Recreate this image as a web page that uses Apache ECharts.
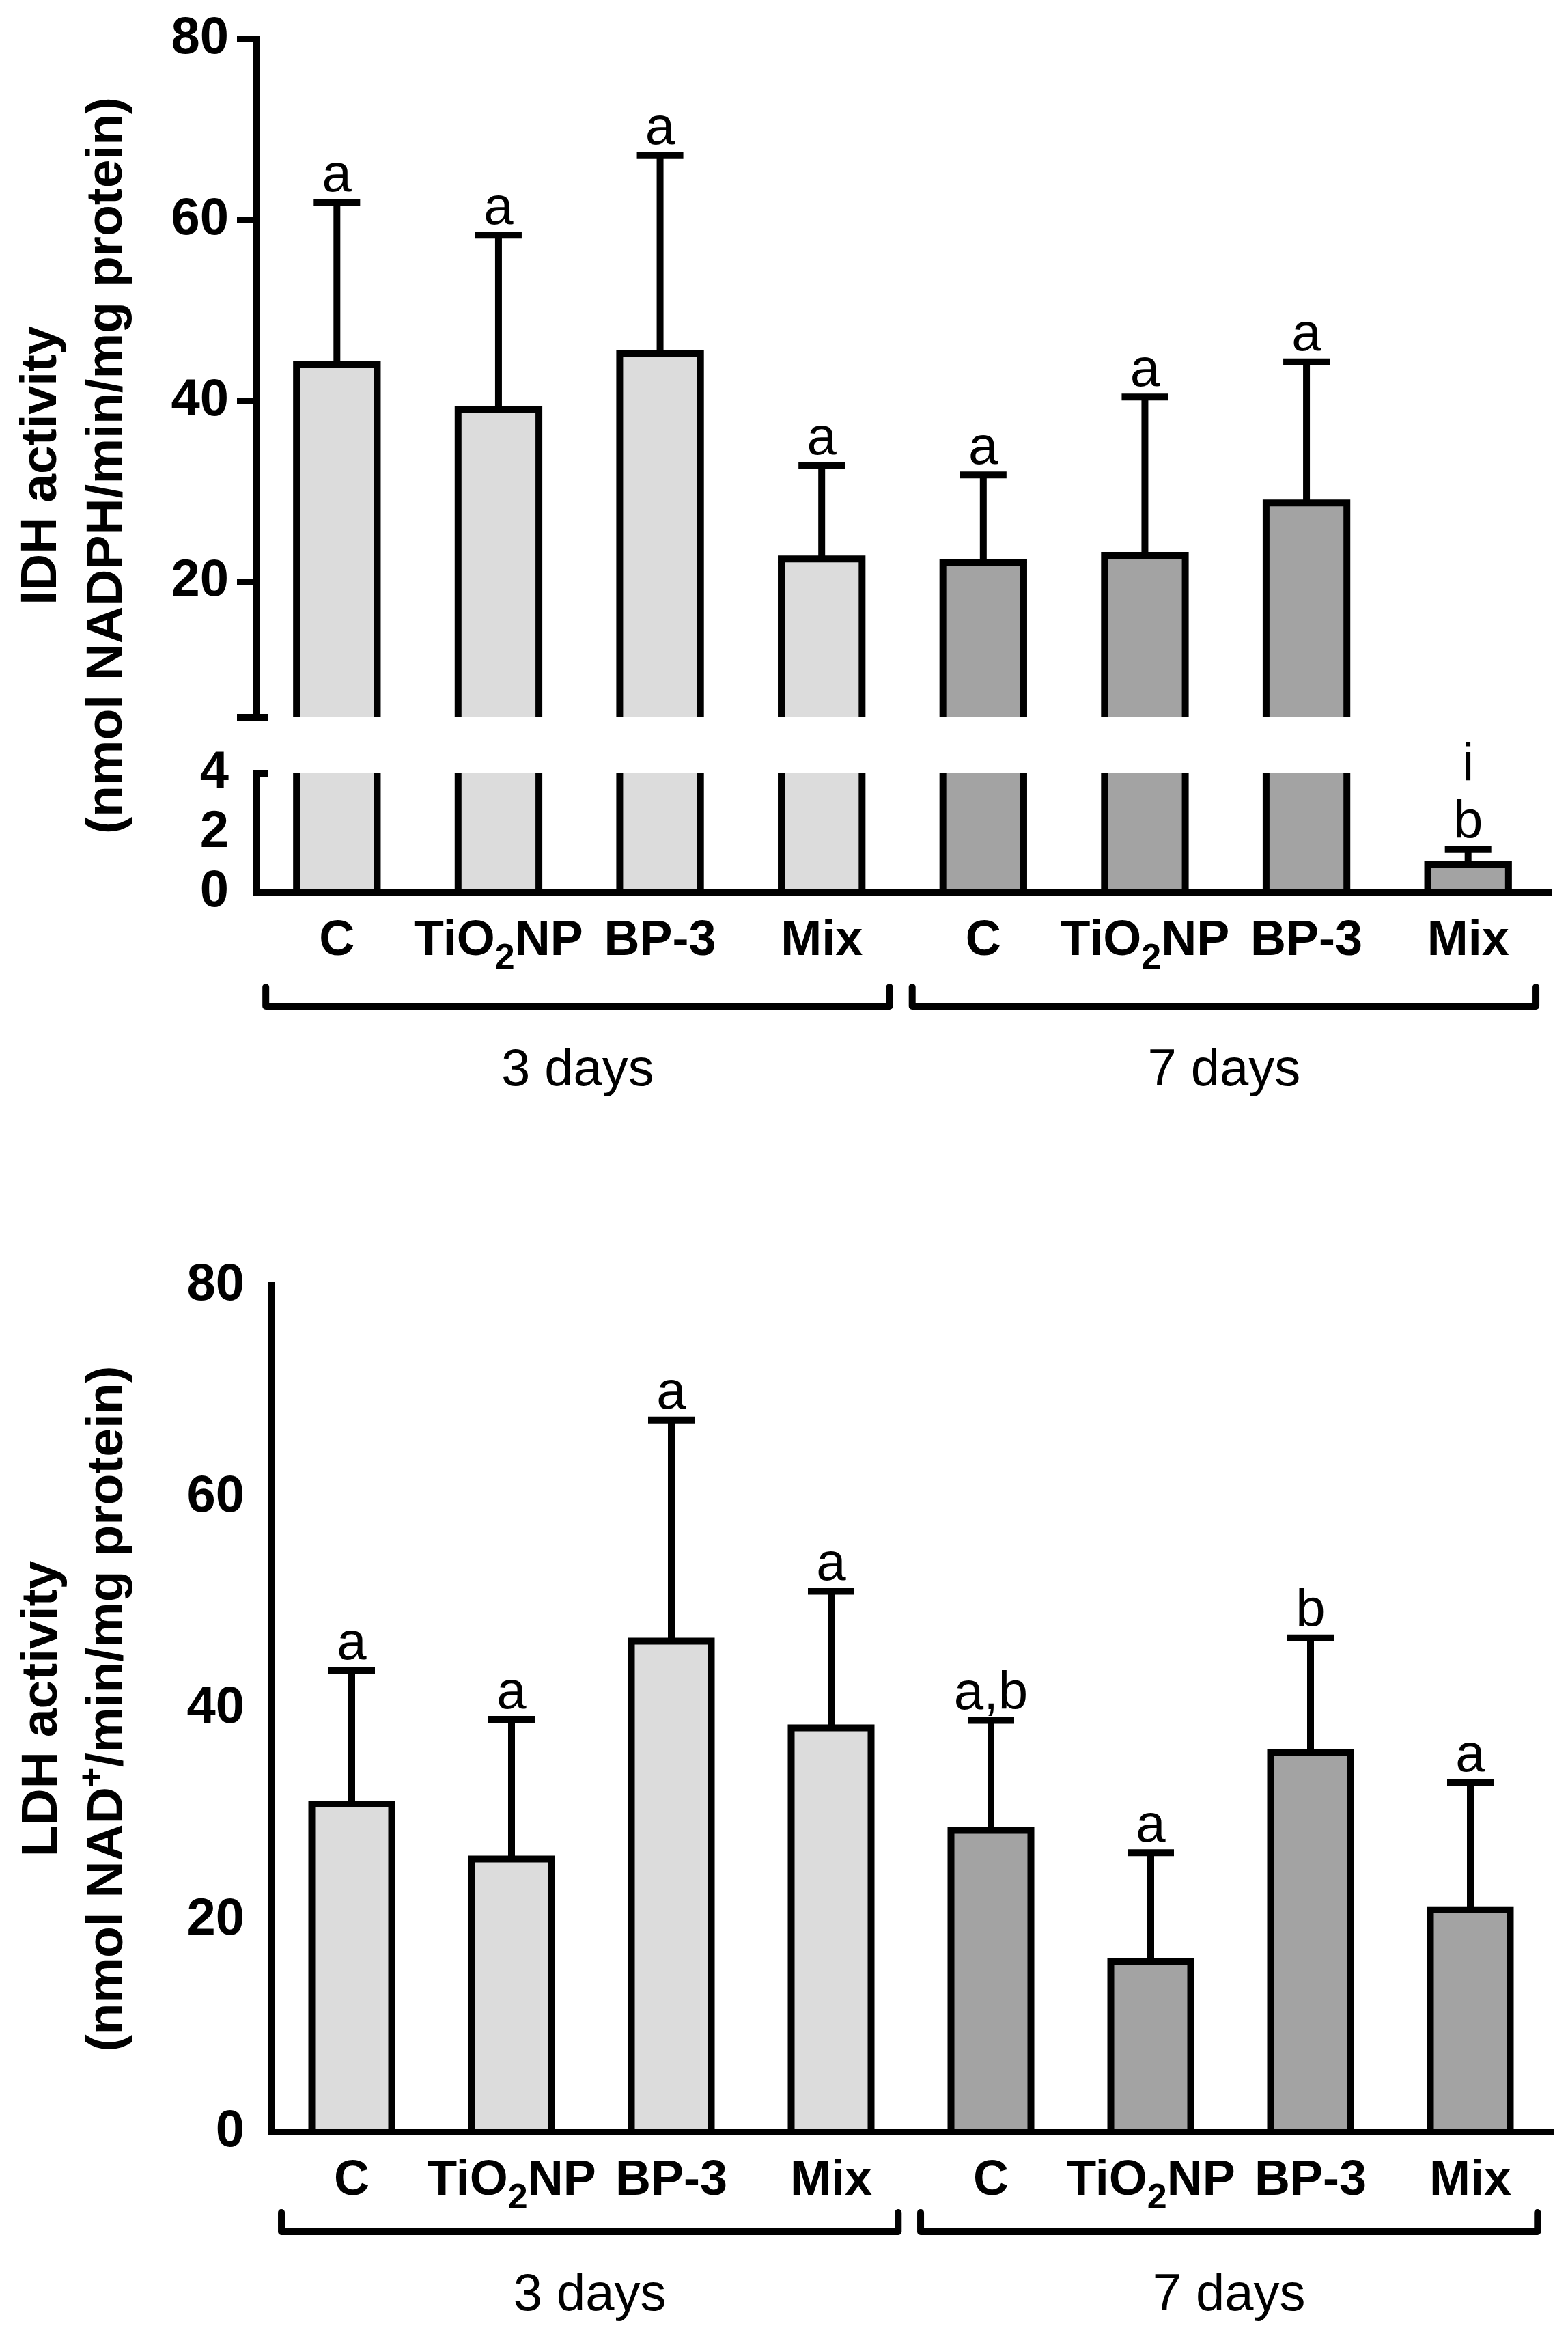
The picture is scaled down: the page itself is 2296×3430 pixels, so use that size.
<!DOCTYPE html>
<html>
<head>
<meta charset="utf-8">
<script src="https://cdn.jsdelivr.net/npm/echarts@6/dist/echarts.min.js"></script>
<style>
  html, body { margin: 0; padding: 0; background: #fff; }
  #chart { width: 2296px; height: 3430px; }
</style>
</head>
<body>
<div id="chart"></div>
<script>
  // categories and groups
  var categories = ['C', 'TiO2NP', 'BP-3', 'Mix', 'C', 'TiO2NP', 'BP-3', 'Mix'];
  var dayGroup = [0, 0, 0, 0, 1, 1, 1, 1];
  var groupNames = ['3 days', '7 days'];
  var groupFirst = [0, 4];
  var groupLast = [3, 7];

  // IDH panel (broken axis)
  var idhMean = [44.0, 39.0, 45.2, 22.5, 22.1, 22.9, 28.7, 0.92];
  var idhSd = [17.9, 19.3, 21.9, 10.3, 9.7, 17.5, 15.6, 0.51];
  var idhLetters = ['a', 'a', 'a', 'a', 'a', 'a', 'a', 'i\nb'];
  var idhUpperTicks = [5, 20, 40, 60, 80];
  var idhUpperLabels = [20, 40, 60, 80];
  var idhUpperRange = [5, 80];
  var idhLowerRange = [0, 4];

  // LDH panel
  var ldhMean = [31.0, 25.8, 46.4, 38.2, 28.5, 16.1, 35.9, 21.0];
  var ldhSd = [12.6, 13.2, 20.9, 12.9, 10.4, 10.3, 10.8, 12.0];
  var ldhLetters = ['a', 'a', 'a', 'a', 'a,b', 'a', 'b', 'a'];

  var FONT = '"Liberation Sans", Arial, Helvetica, sans-serif';
  var barColors = ['#dcdcdc', '#a3a3a3'];
  var LW = 10;

  function barRender(lo, hi) {
    return function (params, api) {
      var i = api.value(0), v = api.value(1);
      if (v <= lo) return null;
      var half = api.size([1, 0])[0] * 0.25;
      var base = api.coord([i, lo]);
      var cx = base[0], yLo = base[1];
      var yTop = api.coord([i, Math.min(v, hi)])[1];
      var x0 = cx - half, x1 = cx + half;
      var kids = [{
        type: 'rect',
        shape: { x: x0, y: yTop, width: x1 - x0, height: yLo - yTop },
        style: { fill: barColors[dayGroup[params.dataIndex]] }
      }];
      if (v <= hi) {
        kids.push({ type: 'polyline', shape: { points: [[x0, yLo], [x0, yTop], [x1, yTop], [x1, yLo]] },
          style: { stroke: '#000', lineWidth: LW, fill: null, lineJoin: 'miter' } });
      } else {
        kids.push({ type: 'line', shape: { x1: x0, y1: yLo, x2: x0, y2: yTop }, style: { stroke: '#000', lineWidth: LW } });
        kids.push({ type: 'line', shape: { x1: x1, y1: yLo, x2: x1, y2: yTop }, style: { stroke: '#000', lineWidth: LW } });
      }
      return { type: 'group', children: kids };
    };
  }

  function errRender(lo, hi, letters) {
    return function (params, api) {
      var i = api.value(0), v = api.value(1), e = api.value(2);
      var t = v + e;
      if (t <= lo || v >= hi) return null;
      var from = api.coord([i, Math.max(v, lo)]);
      var to = api.coord([i, Math.min(t, hi)]);
      var cx = from[0];
      var kids = [{ type: 'line', shape: { x1: cx, y1: from[1], x2: cx, y2: to[1] }, style: { stroke: '#000', lineWidth: LW } }];
      if (t <= hi) {
        kids.push({ type: 'line', shape: { x1: cx - 34, y1: to[1], x2: cx + 34, y2: to[1] }, style: { stroke: '#000', lineWidth: LW } });
        kids.push({ type: 'text', style: { text: letters[params.dataIndex], x: cx, y: to[1] + 4,
          align: 'center', verticalAlign: 'bottom', fontSize: 78, lineHeight: 84, fontFamily: FONT, fill: '#000' } });
      }
      return { type: 'group', children: kids };
    };
  }

  function bracketRender(below, textBelow) {
    return function (params, api) {
      var k = params.dataIndex;
      var band = api.size([1, 0])[0];
      var a = api.coord([groupFirst[k], 0]);
      var b = api.coord([groupLast[k], 0]);
      var x0 = a[0] - band * 0.44, x1 = b[0] + band * 0.42, y = a[1] + below;
      return {
        type: 'group',
        children: [
          { type: 'polyline', shape: { points: [[x0, y - 28], [x0, y], [x1, y], [x1, y - 28]] },
            style: { stroke: '#000', lineWidth: LW, fill: null, lineCap: 'round', lineJoin: 'round' } },
          { type: 'text', style: { text: groupNames[k], x: (x0 + x1) / 2, y: a[1] + textBelow,
            align: 'center', verticalAlign: 'middle', fontSize: 76, fontFamily: FONT, fill: '#000' } }
        ]
      };
    };
  }

  var lineStyle = { color: '#000', width: LW, cap: 'square' };

  function catAxis(grid) {
    return {
      gridIndex: grid, type: 'category', data: categories, z: 10,
      axisLine: { lineStyle: lineStyle },
      axisTick: { alignWithLabel: true, length: 28, lineStyle: { color: '#000', width: LW } },
      axisLabel: {
        interval: 0, margin: 20, color: '#000', fontSize: 72, fontWeight: 'bold', fontFamily: FONT, lineHeight: 104,
        formatter: function (val) { return val === 'TiO2NP' ? 'TiO{sub|2}NP' : val; },
        rich: { sub: { fontSize: 52, fontWeight: 'bold', fontFamily: FONT, lineHeight: 52, padding: [52, 0, 0, 0], color: '#000' } }
      }
    };
  }

  var valLabel = { color: '#000', fontSize: 76, fontWeight: 'bold', fontFamily: FONT, margin: 40 };
  var valTick = { length: 28, lineStyle: { color: '#000', width: LW } };
  var nameStyle = { color: '#000', fontSize: 75, fontWeight: 'bold', fontFamily: FONT, lineHeight: 96 };

  function pairs(mean, sd) {
    return mean.map(function (m, i) { return [i, m, sd[i]]; });
  }

  function breakAxis(grid, range, at) {
    return { gridIndex: grid, type: 'value', position: 'left', offset: 0, min: range[0], max: range[1], z: 10,
      axisLine: { show: false }, splitLine: { show: false }, axisLabel: { show: false },
      axisTick: { show: true, inside: true, length: 18, customValues: [at], lineStyle: { color: '#000', width: LW } } };
  }

  var chart = echarts.init(document.getElementById('chart'), null, { renderer: 'canvas', devicePixelRatio: 1 });

  var option = {
    backgroundColor: '#fff',
    animation: false,
    grid: [
      { left: 375, right: 28, top: 57, height: 993 },
      { left: 375, right: 28, top: 1132, height: 174 },
      { left: 375, right: 28, top: 57, height: 1249 },
      { left: 398, right: 26, top: 1882, height: 1239 }
    ],
    xAxis: [
      { gridIndex: 0, type: 'category', data: categories, show: false },
      catAxis(1),
      { gridIndex: 2, type: 'value', show: false },
      catAxis(3)
    ],
    yAxis: [
      { gridIndex: 0, type: 'value', position: 'left', min: idhUpperRange[0], max: idhUpperRange[1], z: 10,
        axisLine: { show: true, lineStyle: lineStyle }, splitLine: { show: false },
        axisTick: { show: true, length: 28, customValues: idhUpperTicks, lineStyle: { color: '#000', width: LW } },
        axisLabel: Object.assign({ customValues: idhUpperLabels }, valLabel) },
      { gridIndex: 1, type: 'value', position: 'left', min: idhLowerRange[0], max: idhLowerRange[1], interval: 2, z: 10,
        axisLine: { show: true, lineStyle: lineStyle }, splitLine: { show: false },
        axisTick: valTick, axisLabel: valLabel },
      { gridIndex: 2, type: 'value', position: 'left', min: 0, max: 1,
        axisLine: { show: false }, axisTick: { show: false }, axisLabel: { show: false }, splitLine: { show: false },
        name: 'IDH activity\n(nmol NADPH/min/mg protein)', nameLocation: 'middle', nameGap: 170,
        nameTextStyle: nameStyle },
      { gridIndex: 3, type: 'value', position: 'left', min: 0, max: 80, interval: 20, z: 10,
        axisLine: { show: true, lineStyle: lineStyle }, splitLine: { show: false },
        axisTick: valTick, axisLabel: valLabel,
        name: 'LDH activity\n(nmol NAD{sup|+}/min/mg protein)', nameLocation: 'middle', nameGap: 192,
        nameTextStyle: Object.assign({
          rich: { sup: { fontSize: 50, fontWeight: 'bold', fontFamily: FONT, lineHeight: 52, padding: [0, 0, 44, 0], color: '#000' } }
        }, nameStyle) },
      // break marks on the broken axis
      breakAxis(0, idhUpperRange, idhUpperRange[0]),
      breakAxis(1, idhLowerRange, idhLowerRange[1])
    ],
    series: [
      { type: 'custom', name: 'IDH bars upper', xAxisIndex: 0, yAxisIndex: 0, silent: true,
        renderItem: barRender(idhUpperRange[0], idhUpperRange[1]), data: pairs(idhMean, idhSd) },
      { type: 'custom', name: 'IDH err upper', xAxisIndex: 0, yAxisIndex: 0, silent: true,
        renderItem: errRender(idhUpperRange[0], idhUpperRange[1], idhLetters), data: pairs(idhMean, idhSd) },
      { type: 'custom', name: 'IDH bars lower', xAxisIndex: 1, yAxisIndex: 1, silent: true,
        renderItem: barRender(idhLowerRange[0], idhLowerRange[1]), data: pairs(idhMean, idhSd) },
      { type: 'custom', name: 'IDH err lower', xAxisIndex: 1, yAxisIndex: 1, silent: true,
        renderItem: errRender(idhLowerRange[0], idhLowerRange[1], idhLetters), data: pairs(idhMean, idhSd) },
      { type: 'custom', name: 'IDH groups', xAxisIndex: 1, yAxisIndex: 1, silent: true,
        renderItem: bracketRender(167, 262), data: groupNames.map(function (n, k) { return [groupFirst[k], 0]; }) },
      { type: 'custom', name: 'LDH bars', xAxisIndex: 3, yAxisIndex: 3, silent: true,
        renderItem: barRender(0, 80), data: pairs(ldhMean, ldhSd) },
      { type: 'custom', name: 'LDH err', xAxisIndex: 3, yAxisIndex: 3, silent: true,
        renderItem: errRender(0, 80, ldhLetters), data: pairs(ldhMean, ldhSd) },
      { type: 'custom', name: 'LDH groups', xAxisIndex: 3, yAxisIndex: 3, silent: true,
        renderItem: bracketRender(146, 240), data: groupNames.map(function (n, k) { return [groupFirst[k], 0]; }) }
    ]
  };

  chart.setOption(option);
</script>
</body>
</html>
